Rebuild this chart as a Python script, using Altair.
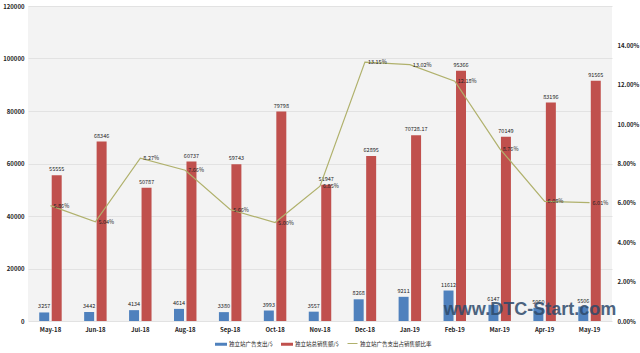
import altair as alt
import pandas as pd

months = ["May-18", "Jun-18", "Jul-18", "Aug-18", "Sep-18", "Oct-18", "Nov-18",
          "Dec-18", "Jan-19", "Feb-19", "Mar-19", "Apr-19", "May-19"]
ad_spend = [3257, 3442, 4134, 4614, 3380, 3993, 3557, 8268, 9211, 11612, 6147, 5060, 5506]
sales = [55555, 68346, 50787, 60737, 59743, 79798, 51947, 62895, 70728.17, 95366, 70149, 83196, 91565]
ratio = [0.0586, 0.0504, 0.0827, 0.0766, 0.0566, 0.0500, 0.0685, 0.1315, 0.1302, 0.1218, 0.0876, 0.0608, 0.0601]

s_ad = "独立站广告支出/$"
s_sales = "独立站总销售额/$"
s_ratio = "独立站广告支出占销售额比率"


def fmt(v):
    return str(int(v)) if float(v).is_integer() else str(v)


rows = []
for m, a, s in zip(months, ad_spend, sales):
    rows.append({"month": m, "series": s_ad, "value": a, "label": fmt(a)})
    rows.append({"month": m, "series": s_sales, "value": s, "label": fmt(s)})
df_bars = pd.DataFrame(rows)
df_line = pd.DataFrame({"month": months, "ratio": ratio, "series": [s_ratio] * len(months),
                        "label": [f"{r*100:.2f}%" for r in ratio]})

FONT = "Noto Sans CJK SC"

xenc = alt.X("month:N", sort=months, title=None,
             scale=alt.Scale(paddingInner=0.5, paddingOuter=0.25),
             axis=alt.Axis(labelAngle=0, domain=False, ticks=False, labelPadding=5,
                           labelFontSize=6, labelColor="#222", labelFontWeight="bold"))
xoff = alt.XOffset("series:N", sort=[s_ad, s_sales],
                   scale=alt.Scale(paddingInner=0.2, paddingOuter=0))
yenc = alt.Y("value:Q", title=None,
             scale=alt.Scale(domain=[0, 120000]),
             axis=alt.Axis(values=list(range(0, 120001, 20000)), domain=False, ticks=False,
                           labelPadding=4, labelFontSize=6, labelColor="#222",
                           labelFontWeight="bold", grid=True, gridColor="#e2e2e2", format="d"))

bars = alt.Chart(df_bars).mark_bar().encode(
    x=xenc, xOffset=xoff, y=yenc,
    color=alt.Color("series:N", sort=[s_ad, s_sales],
                    scale=alt.Scale(domain=[s_ad, s_sales], range=["#4f81bd", "#c0504d"]),
                    legend=alt.Legend(title=None, orient="none", direction="horizontal",
                                      legendX=187, legendY=332,
                                      symbolType="M-1,-0.25H1V0.25H-1Z", symbolSize=144,
                                      symbolStrokeWidth=0, labelFontSize=5.5, labelColor="#222",
                                      labelFont=FONT, columnPadding=8, labelOffset=2))
)
bar_text = alt.Chart(df_bars).mark_text(dy=-3, baseline="bottom", fontSize=5.5,
                                         color="#222", font=FONT).encode(
    x=alt.X("month:N", sort=months), xOffset=alt.XOffset("series:N", sort=[s_ad, s_sales]),
    y="value:Q", text="label:N")

yenc2 = alt.Y("ratio:Q", title=None, scale=alt.Scale(domain=[0, 0.14]),
              axis=alt.Axis(orient="right", values=[0, 0.02, 0.04, 0.06, 0.08, 0.10, 0.12, 0.14],
                            format=".2%", domain=False, ticks=False, grid=False,
                            labelPadding=5, labelFontSize=6, labelColor="#222",
                            labelFontWeight="bold"))
line = alt.Chart(df_line).mark_line(strokeWidth=1.2).encode(
    x=alt.X("month:N", sort=months), y=yenc2,
    stroke=alt.Stroke("series:N", scale=alt.Scale(domain=[s_ratio], range=["#b0b16c"]),
                      legend=alt.Legend(title=None, orient="none", legendX=319, legendY=332,
                                        symbolType="stroke", symbolSize=100,
                                        symbolStrokeWidth=1, labelFontSize=5.5,
                                        labelColor="#222", labelFont=FONT, labelOffset=2))
)
line_text = alt.Chart(df_line).mark_text(dx=3, align="left", baseline="middle", fontSize=5.5,
                                          color="#222", font=FONT).encode(
    x=alt.X("month:N", sort=months), y="ratio:Q", text="label:N")

wm = alt.Chart(pd.DataFrame({"t": ["www.DTC-Start.com"]})).mark_text(
    font="Liberation Sans", fontWeight="bold", fontSize=18, color="#2e4a6b", opacity=0.85,
    align="center", baseline="middle").encode(x=alt.value(502), y=alt.value(304), text="t:N")

chart = alt.layer(
    alt.layer(bars, bar_text),
    alt.layer(line, line_text),
    wm
).resolve_scale(y="independent").properties(
    width=584, height=315,
    autosize=alt.AutoSizeParams(type="none"),
    padding={"left": 28, "top": 6, "right": 28, "bottom": 32},
    background="white"
).configure_view(fill="#f3f3f3", stroke=None).configure_axis(labelFont=FONT)

chart.save("out.html", embed_options={"renderer": "svg", "actions": False})
